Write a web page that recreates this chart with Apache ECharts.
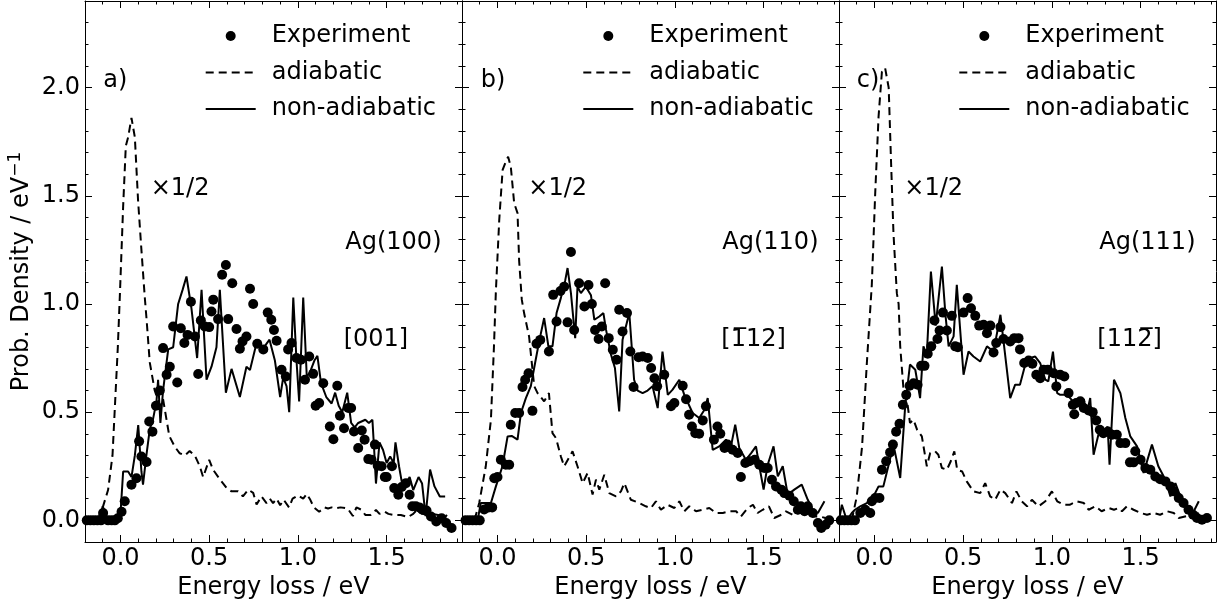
<!DOCTYPE html>
<html>
<head>
<meta charset="utf-8">
<script src="https://cdn.jsdelivr.net/npm/echarts@6/dist/echarts.min.js"></script>
<title>Energy loss</title>
<style>
  body { margin: 0; background: #fff; }
  #main { width: 1220px; height: 605px; }
</style>
</head>
<body>
<div id="main"></div>
<script>
// tick values
var xMajor = [0, 0.5, 1.0, 1.5];
var xMinor = [-0.1, 0.1, 0.2, 0.3, 0.4, 0.6, 0.7, 0.8, 0.9, 1.1, 1.2, 1.3, 1.4, 1.6, 1.7, 1.8, 1.9];
var yMajor = [0, 0.5, 1.0, 1.5, 2.0];
var yMinor = [0.1, 0.2, 0.3, 0.4, 0.6, 0.7, 0.8, 0.9, 1.1, 1.2, 1.3, 1.4, 1.6, 1.7, 1.8, 1.9, 2.1, 2.2, 2.3];

// panel a) Ag(100) [001]
var expA = [[-0.19,0],[-0.17,0],[-0.15,0],[-0.13,0],[-0.11,0],[-0.098,0.034],[-0.07,0],[-0.05,0],[-0.032,0],[-0.015,0.01],[0.006,0.04],[0.024,0.088],[0.062,0.165],[0.09,0.195],[0.105,0.365],[0.118,0.295],[0.147,0.27],[0.162,0.457],[0.18,0.41],[0.2,0.53],[0.222,0.6],[0.24,0.796],[0.26,0.673],[0.278,0.71],[0.297,0.896],[0.32,0.637],[0.34,0.888],[0.36,0.82],[0.378,0.857],[0.397,1.01],[0.42,0.85],[0.438,0.676],[0.453,0.924],[0.475,0.896],[0.5,0.893],[0.513,0.965],[0.523,1.02],[0.55,0.93],[0.573,1.135],[0.594,1.18],[0.607,0.93],[0.63,1.096],[0.654,0.884],[0.673,0.793],[0.688,0.827],[0.71,0.85],[0.73,1.07],[0.748,1.0],[0.771,0.816],[0.805,0.79],[0.83,0.96],[0.85,0.927],[0.865,0.88],[0.88,0.83],[0.908,0.696],[0.932,0.665],[0.945,0.79],[0.964,0.82],[0.992,0.75],[1.017,0.742],[1.04,0.65],[1.064,0.757],[1.086,0.677],[1.1,0.53],[1.12,0.542],[1.143,0.634],[1.18,0.434],[1.2,0.375],[1.222,0.622],[1.237,0.483],[1.26,0.426],[1.284,0.519],[1.3,0.519],[1.316,0.411],[1.34,0.334],[1.36,0.415],[1.376,0.373],[1.397,0.283],[1.415,0.28],[1.434,0.35],[1.45,0.252],[1.472,0.25],[1.49,0.2],[1.5,0.2],[1.53,0.25],[1.543,0.149],[1.566,0.118],[1.585,0.154],[1.609,0.172],[1.63,0.118],[1.645,0.065],[1.665,0.065],[1.685,0.06],[1.7,0.05],[1.725,0.045],[1.75,0.018],[1.78,-0.005],[1.81,0.01],[1.836,-0.012],[1.866,-0.035]];
var adiaA = [[-0.2,0],[-0.13,0],[-0.1,0.06],[-0.07,0.14],[-0.045,0.3],[-0.03,0.55],[-0.015,0.8],[-0.003,1.05],[0.015,1.45],[0.03,1.73],[0.043,1.77],[0.062,1.86],[0.081,1.77],[0.099,1.48],[0.118,1.25],[0.137,1.03],[0.147,0.93],[0.165,0.73],[0.193,0.6],[0.222,0.53],[0.24,0.56],[0.275,0.39],[0.306,0.34],[0.334,0.31],[0.363,0.3],[0.39,0.32],[0.419,0.3],[0.447,0.25],[0.466,0.2],[0.5,0.28],[0.522,0.234],[0.56,0.19],[0.598,0.15],[0.626,0.134],[0.663,0.134],[0.69,0.111],[0.72,0.142],[0.748,0.127],[0.767,0.073],[0.795,0.111],[0.823,0.08],[0.842,0.1],[0.86,0.08],[0.88,0.1],[0.9,0.07],[0.92,0.095],[0.95,0.06],[0.97,0.1],[1.0,0.115],[1.03,0.1],[1.05,0.122],[1.07,0.095],[1.09,0.06],[1.12,0.04],[1.15,0.06],[1.17,0.055],[1.19,0.06],[1.21,0.055],[1.24,0.06],[1.28,0.055],[1.31,0.02],[1.33,0.06],[1.36,0.048],[1.38,0.025],[1.41,0.025],[1.44,0.048],[1.46,0.03],[1.49,0.04],[1.51,0.03],[1.54,0.025],[1.58,0.025],[1.62,0.015],[1.65,0.03],[1.67,0.048],[1.7,0.03],[1.73,0.025],[1.76,0.03],[1.79,0.025],[1.83,0.015],[1.84,0.025]];
var nonA = [[-0.2,0],[-0.12,0],[-0.1,0.065],[-0.07,0],[-0.04,0],[0.0,0.03],[0.015,0.226],[0.043,0.226],[0.062,0.2],[0.081,0.3],[0.1,0.44],[0.118,0.226],[0.127,0.165],[0.146,0.3],[0.165,0.42],[0.184,0.47],[0.203,0.55],[0.212,0.65],[0.225,0.45],[0.24,0.6],[0.269,0.79],[0.297,0.8],[0.325,1.0],[0.35,1.065],[0.372,1.127],[0.4,0.98],[0.432,0.75],[0.457,1.065],[0.485,0.65],[0.513,0.71],[0.541,0.8],[0.56,1.065],[0.594,0.59],[0.626,0.7],[0.673,0.57],[0.71,0.71],[0.73,0.695],[0.767,0.82],[0.8,0.79],[0.84,0.835],[0.87,0.74],[0.9,0.57],[0.917,0.66],[0.936,0.62],[0.951,0.5],[0.974,1.03],[0.992,0.74],[1.007,0.55],[1.03,1.03],[1.05,0.665],[1.066,0.68],[1.094,0.74],[1.11,0.76],[1.13,0.635],[1.16,0.57],[1.19,0.54],[1.21,0.59],[1.23,0.53],[1.25,0.5],[1.278,0.59],[1.3,0.45],[1.32,0.43],[1.34,0.45],[1.38,0.465],[1.4,0.45],[1.42,0.465],[1.43,0.325],[1.44,0.17],[1.46,0.36],[1.48,0.325],[1.5,0.265],[1.52,0.295],[1.54,0.265],[1.55,0.36],[1.57,0.25],[1.59,0.157],[1.61,0.17],[1.63,0.2],[1.65,0.14],[1.68,0.2],[1.7,0.17],[1.72,0.02],[1.745,0.235],[1.77,0.157],[1.8,0.11],[1.83,0.11]];

// panel b) Ag(110) [-112]
var expB = [[-0.18,0],[-0.16,0],[-0.14,0],[-0.12,0],[-0.1,0],[-0.075,0.05],[-0.05,0.06],[-0.03,0.06],[-0.018,0.195],[0.0,0.2],[0.019,0.28],[0.047,0.257],[0.066,0.257],[0.075,0.442],[0.1,0.496],[0.122,0.496],[0.141,0.616],[0.156,0.65],[0.175,0.68],[0.197,0.506],[0.22,0.816],[0.241,0.834],[0.29,0.78],[0.314,1.042],[0.333,0.919],[0.355,1.06],[0.376,1.08],[0.395,0.915],[0.414,1.24],[0.432,0.88],[0.46,1.096],[0.49,0.988],[0.513,1.088],[0.532,1.0],[0.55,0.88],[0.57,0.838],[0.588,0.896],[0.607,1.096],[0.627,0.842],[0.65,0.788],[0.671,0.742],[0.686,0.973],[0.705,0.873],[0.73,0.958],[0.749,0.78],[0.767,0.616],[0.795,0.754],[0.818,0.757],[0.847,0.75],[0.866,0.704],[0.885,0.657],[0.9,0.62],[0.94,0.673],[0.978,0.527],[0.997,0.542],[1.044,0.622],[1.063,0.56],[1.08,0.488],[1.096,0.434],[1.115,0.403],[1.137,0.4],[1.157,0.462],[1.175,0.527],[1.22,0.373],[1.24,0.434],[1.256,0.4],[1.28,0.334],[1.297,0.35],[1.325,0.326],[1.354,0.311],[1.372,0.2],[1.397,0.265],[1.42,0.273],[1.45,0.28],[1.476,0.257],[1.504,0.242],[1.523,0.242],[1.547,0.188],[1.57,0.157],[1.6,0.142],[1.617,0.126],[1.645,0.114],[1.67,0.088],[1.693,0.049],[1.71,0.065],[1.731,0.042],[1.749,0.065],[1.777,0.034],[1.806,-0.012],[1.825,-0.035],[1.85,-0.02],[1.87,0.0]];
var adiaB = [[-0.2,0],[-0.13,0],[-0.103,0.08],[-0.066,0.25],[-0.037,0.465],[-0.02,0.8],[-0.009,1.06],[0.01,1.39],[0.029,1.62],[0.048,1.66],[0.06,1.68],[0.075,1.635],[0.094,1.466],[0.113,1.42],[0.122,1.2],[0.137,1.02],[0.15,0.958],[0.178,0.85],[0.207,0.62],[0.226,0.588],[0.263,0.55],[0.29,0.588],[0.31,0.403],[0.33,0.38],[0.357,0.296],[0.376,0.25],[0.423,0.319],[0.451,0.25],[0.48,0.172],[0.508,0.219],[0.536,0.119],[0.555,0.188],[0.574,0.142],[0.602,0.211],[0.63,0.126],[0.668,0.111],[0.696,0.134],[0.715,0.172],[0.752,0.095],[0.8,0.08],[0.836,0.065],[0.865,0.057],[0.893,0.088],[0.921,0.049],[0.959,0.072],[0.997,0.057],[1.025,0.088],[1.053,0.042],[1.081,0.065],[1.119,0.042],[1.157,0.049],[1.194,0.057],[1.232,0.034],[1.27,0.034],[1.307,0.042],[1.345,0.042],[1.372,0.018],[1.41,0.057],[1.44,0.072],[1.466,0.034],[1.495,0.049],[1.53,0.065],[1.56,0.011],[1.6,0.026],[1.626,0.042],[1.664,0.026],[1.7,0.034],[1.74,0.034],[1.777,0.018],[1.815,0.018],[1.85,0.011]];
var nonB = [[-0.2,0],[-0.112,0],[-0.094,0.08],[-0.037,0.08],[-0.009,0.157],[0.028,0.25],[0.057,0.388],[0.08,0.39],[0.113,0.373],[0.132,0.496],[0.16,0.565],[0.188,0.62],[0.212,0.727],[0.235,0.827],[0.263,0.935],[0.287,0.804],[0.31,0.804],[0.333,0.958],[0.357,1.027],[0.382,1.11],[0.395,1.166],[0.414,1.05],[0.438,0.842],[0.451,1.08],[0.47,1.05],[0.498,1.08],[0.527,1.04],[0.546,0.927],[0.574,0.942],[0.597,0.958],[0.612,0.88],[0.64,0.765],[0.662,0.704],[0.686,0.503],[0.705,0.835],[0.743,0.958],[0.77,0.65],[0.79,0.6],[0.818,0.588],[0.846,0.6],[0.874,0.62],[0.903,0.519],[0.93,0.78],[0.96,0.58],[0.987,0.604],[1.025,0.65],[1.053,0.58],[1.1,0.496],[1.137,0.473],[1.166,0.51],[1.185,0.565],[1.213,0.326],[1.25,0.342],[1.288,0.373],[1.316,0.342],[1.34,0.442],[1.363,0.334],[1.4,0.28],[1.43,0.311],[1.457,0.342],[1.476,0.25],[1.5,0.142],[1.523,0.257],[1.556,0.342],[1.58,0.203],[1.608,0.25],[1.636,0.119],[1.673,0.142],[1.715,0.165],[1.749,0.095],[1.777,0.049],[1.806,0.034],[1.843,0.088]];

// panel c) Ag(111) [11-2]
var expC = [[-0.19,0],[-0.17,0],[-0.15,0],[-0.13,0],[-0.11,0],[-0.08,0.034],[-0.052,0.049],[-0.024,0.034],[-0.015,0.088],[0.004,0.103],[0.028,0.103],[0.042,0.234],[0.066,0.273],[0.088,0.314],[0.104,0.35],[0.122,0.41],[0.141,0.446],[0.16,0.534],[0.179,0.58],[0.198,0.622],[0.22,0.634],[0.243,0.627],[0.263,0.714],[0.282,0.714],[0.3,0.77],[0.32,0.804],[0.338,0.924],[0.355,0.838],[0.367,0.877],[0.386,0.96],[0.408,0.877],[0.436,0.945],[0.455,0.804],[0.47,0.8],[0.502,0.96],[0.525,1.027],[0.544,0.98],[0.568,0.945],[0.59,0.9],[0.615,0.904],[0.634,0.865],[0.653,0.9],[0.671,0.776],[0.686,0.82],[0.71,0.893],[0.727,0.838],[0.765,0.827],[0.788,0.842],[0.812,0.842],[0.82,0.79],[0.844,0.727],[0.869,0.739],[0.89,0.724],[0.912,0.673],[0.934,0.657],[0.953,0.696],[0.977,0.696],[1.01,0.68],[1.025,0.619],[1.047,0.673],[1.07,0.665],[1.094,0.588],[1.118,0.534],[1.126,0.49],[1.137,0.542],[1.16,0.55],[1.18,0.519],[1.207,0.508],[1.23,0.5],[1.25,0.462],[1.27,0.419],[1.29,0.403],[1.316,0.411],[1.34,0.396],[1.366,0.396],[1.386,0.357],[1.414,0.357],[1.44,0.268],[1.46,0.268],[1.47,0.319],[1.5,0.28],[1.527,0.242],[1.555,0.234],[1.583,0.203],[1.61,0.19],[1.64,0.18],[1.668,0.157],[1.686,0.134],[1.715,0.103],[1.742,0.08],[1.77,0.049],[1.796,0.026],[1.818,0.011],[1.846,0.003],[1.874,0.011]];
var adiaC = [[-0.2,0],[-0.128,0],[-0.1,0.11],[-0.07,0.34],[-0.043,0.727],[-0.015,1.09],[0.004,1.51],[0.023,1.866],[0.042,2.074],[0.06,2.09],[0.08,2.0],[0.093,1.666],[0.107,1.327],[0.126,1.05],[0.136,1.0],[0.145,0.804],[0.164,0.6],[0.183,0.557],[0.2,0.45],[0.22,0.465],[0.24,0.419],[0.267,0.388],[0.295,0.25],[0.314,0.311],[0.342,0.319],[0.36,0.303],[0.38,0.242],[0.408,0.234],[0.43,0.273],[0.45,0.319],[0.466,0.234],[0.494,0.226],[0.52,0.18],[0.558,0.134],[0.596,0.126],[0.624,0.172],[0.652,0.111],[0.68,0.095],[0.71,0.142],[0.737,0.126],[0.775,0.08],[0.8,0.134],[0.83,0.088],[0.86,0.065],[0.887,0.095],[0.925,0.065],[0.963,0.088],[1.0,0.134],[1.03,0.088],[1.066,0.072],[1.1,0.072],[1.14,0.088],[1.18,0.08],[1.207,0.049],[1.245,0.065],[1.28,0.042],[1.32,0.057],[1.35,0.049],[1.376,0.057],[1.395,0.042],[1.423,0.065],[1.46,0.049],[1.5,0.034],[1.536,0.026],[1.574,0.034],[1.61,0.026],[1.65,0.042],[1.687,0.034],[1.715,0.011],[1.75,0.018],[1.79,0.026],[1.828,0.034]];
var nonC = [[-0.2,0],[-0.184,0.072],[-0.156,0],[-0.128,0.034],[-0.11,0.049],[-0.08,0.065],[-0.043,0.08],[-0.006,0.11],[0.023,0.157],[0.05,0.157],[0.08,0.257],[0.107,0.35],[0.145,0.196],[0.173,0.527],[0.2,0.72],[0.23,0.696],[0.257,0.565],[0.276,0.804],[0.295,0.765],[0.318,1.15],[0.345,0.9],[0.38,1.173],[0.4,0.95],[0.418,0.804],[0.446,0.85],[0.464,1.088],[0.502,0.673],[0.53,0.78],[0.558,0.757],[0.596,0.734],[0.634,0.804],[0.671,0.78],[0.71,0.95],[0.765,0.565],[0.793,0.627],[0.82,0.627],[0.85,0.72],[0.878,0.75],[0.906,0.757],[0.934,0.727],[0.963,0.65],[0.98,0.642],[1.006,0.78],[1.03,0.588],[1.047,0.58],[1.085,0.58],[1.12,0.55],[1.15,0.542],[1.18,0.557],[1.197,0.496],[1.216,0.565],[1.235,0.303],[1.264,0.403],[1.29,0.403],[1.314,0.434],[1.325,0.257],[1.35,0.65],[1.386,0.588],[1.414,0.473],[1.442,0.388],[1.48,0.342],[1.517,0.219],[1.564,0.35],[1.6,0.25],[1.64,0.188],[1.668,0.111],[1.696,0.172],[1.724,0.111],[1.752,0.065],[1.79,0.026],[1.828,0.088]];

var panels = [
  { exp: expA, adia: adiaA, non: nonA, tag: 'a)', surf: 'Ag(100)', dir: '[001]' },
  { exp: expB, adia: adiaB, non: nonB, tag: 'b)', surf: 'Ag(110)', dir: '[1\u030512]' },
  { exp: expC, adia: adiaC, non: nonC, tag: 'c)', surf: 'Ag(111)', dir: '[112\u0305]' }
];

var FONT = 'DejaVu Sans';
var gridLeft = [85, 462, 839];
var gridW = 377, gridTop = 1, gridBottom = 63;
var zeroX = [120.7, 498.3, 874.3];

var grids = [], xAxes = [], yAxes = [], series = [], legends = [], texts = [];

function xAxis(i, pos, major, labels) {
  return {
    type: 'value', gridIndex: i, position: pos, min: -0.2, max: 1.925,
    axisLine: { show: major, onZero: false, lineStyle: { color: '#000', width: 1 } },
    axisTick: { show: true, inside: true, length: major ? 7 : 3.5, customValues: major ? xMajor : xMinor, lineStyle: { color: '#000', width: 1 } },
    axisLabel: { show: labels, customValues: xMajor, margin: 5, color: '#000', fontSize: 24, fontFamily: FONT, formatter: function (v) { return v.toFixed(1); } },
    splitLine: { show: false },
    name: labels ? 'Energy loss / eV' : '', nameLocation: 'middle', nameGap: 31,
    nameTextStyle: { color: '#000', fontSize: 24, fontFamily: FONT }
  };
}
function yAxis(i, pos, major, labels) {
  return {
    type: 'value', gridIndex: i, position: pos, min: -0.1, max: 2.4,
    axisLine: { show: major, onZero: false, lineStyle: { color: '#000', width: 1 } },
    axisTick: { show: true, inside: true, length: major ? 7 : 3.5, customValues: major ? yMajor : yMinor, lineStyle: { color: '#000', width: 1 } },
    axisLabel: { show: labels, customValues: yMajor, margin: 5, color: '#000', fontSize: 24, fontFamily: FONT, formatter: function (v) { return v.toFixed(1); } },
    splitLine: { show: false },
    name: labels ? 'Prob. Density / eV{sup|\u22121}' : '', nameLocation: 'middle', nameGap: 48,
    nameTextStyle: {
      color: '#000', fontSize: 24, fontFamily: FONT, lineHeight: 30,
      rich: { sup: { fontSize: 17, fontFamily: FONT, color: '#000', verticalAlign: 'top', lineHeight: 30 } }
    }
  };
}

panels.forEach(function (p, i) {
  grids.push({ left: gridLeft[i], width: gridW, top: gridTop, bottom: gridBottom });
  xAxes.push(xAxis(i, 'bottom', true, true), xAxis(i, 'bottom', false, false),
             xAxis(i, 'top', true, false), xAxis(i, 'top', false, false));
  yAxes.push(yAxis(i, 'left', true, i === 0), yAxis(i, 'left', false, false),
             yAxis(i, 'right', true, false), yAxis(i, 'right', false, false));
  var xi = 4 * i;
  series.push(
    { name: 'Experiment', type: 'scatter', xAxisIndex: xi, yAxisIndex: xi, data: p.exp,
      symbol: 'circle', symbolSize: 10, itemStyle: { color: '#000', opacity: 1 } },
    { name: 'adiabatic', type: 'line', xAxisIndex: xi, yAxisIndex: xi, data: p.adia,
      symbol: 'none', lineStyle: { color: '#000', width: 2, type: [8, 5] }, itemStyle: { color: '#000' } },
    { name: 'non-adiabatic', type: 'line', xAxisIndex: xi, yAxisIndex: xi, data: p.non,
      symbol: 'none', lineStyle: { color: '#000', width: 2 }, itemStyle: { color: '#000' } }
  );
  legends.push({
    orient: 'vertical', left: zeroX[i] + 79, top: 19, itemWidth: 50, itemHeight: 10, itemGap: 12.5,
    selectedMode: false,
    textStyle: { color: '#000', fontSize: 24, fontFamily: FONT, padding: [0, 0, 0, 11] },
    data: [
      { name: 'Experiment', icon: 'circle', itemStyle: { opacity: 1 } },
      { name: 'adiabatic', itemStyle: { color: 'transparent', borderWidth: 0, opacity: 0 } },
      { name: 'non-adiabatic', itemStyle: { color: 'transparent', borderWidth: 0, opacity: 0 } }
    ]
  });
  var x0 = zeroX[i], right = gridLeft[i] + gridW;
  var st = function (t, x, y, align) {
    return { type: 'text', z: 100, style: { text: t, x: x, y: y, textAlign: align, textVerticalAlign: 'middle', fill: '#000', font: '24px "' + FONT + '"' } };
  };
  texts.push(
    st(p.tag, x0 - 17.5, 81, 'left'),
    st('\u00D71/2', x0 + 30, 189, 'left'),
    st(p.surf, right - 20.5, 243, 'right'),
    st(p.dir, x0 + 223, 340, 'left')
  );
});

var chart = echarts.init(document.getElementById('main'), null, { renderer: 'canvas' });
chart.setOption({
  animation: false,
  backgroundColor: '#fff',
  grid: grids,
  xAxis: xAxes,
  yAxis: yAxes,
  legend: legends,
  series: series,
  graphic: texts
});
</script>
</body>
</html>
